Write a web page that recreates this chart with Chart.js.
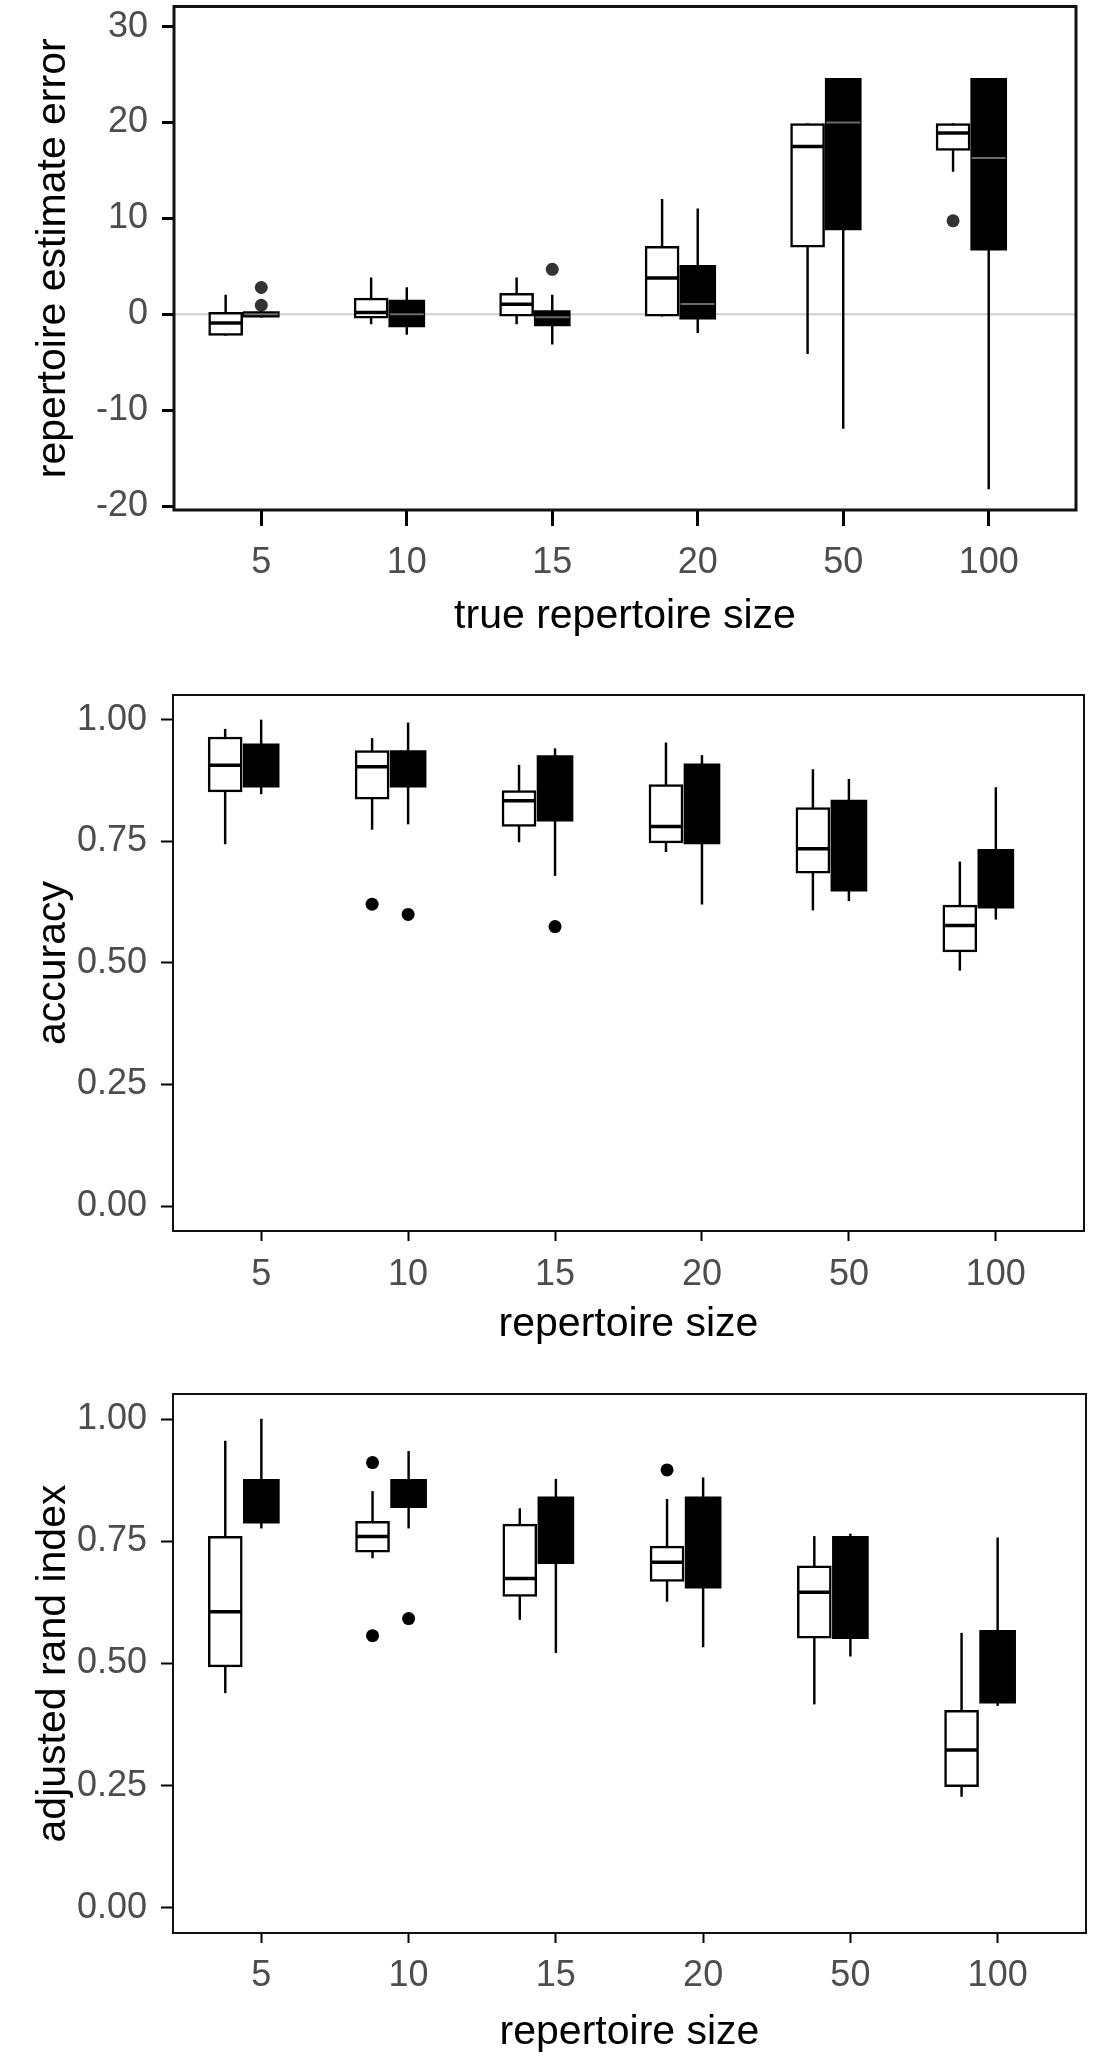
<!DOCTYPE html>
<html><head><meta charset="utf-8">
<script src="https://cdn.jsdelivr.net/npm/chart.js@4.4.1/dist/chart.umd.min.js"></script>
<style>
html,body{margin:0;padding:0;background:#fff;}
#wrap{position:relative;width:1105px;height:2067px;overflow:hidden;background:#fff;}
canvas{position:absolute;left:0;}
</style></head><body>
<div id="wrap">
<canvas id="c1" width="1105" height="650" style="top:0px"></canvas>
<canvas id="c2" width="1105" height="700" style="top:650px"></canvas>
<canvas id="c3" width="1105" height="717" style="top:1350px"></canvas>
</div>
<script>
// ---------- data ----------
const categories = ['5', '10', '15', '20', '50', '100'];
const errTicks = [-20, -10, 0, 10, 20, 30];
const propTicks = [0, 0.25, 0.5, 0.75, 1];

// each entry: [min, q1, median, q3, max]
const errWhite = [
  [-2.2, -2.2, -0.9, 0.2, 2.0],
  [-1.0, -0.4, 0.2, 1.7, 3.8],
  [-1.0, -0.2, 1.05, 2.2, 3.8],
  [-0.2, -0.2, 3.8, 7.1, 12.0],
  [-4.1, 7.0, 17.5, 19.9, 19.9],
  [14.9, 17.1, 18.9, 19.9, 19.9]
];
const errBlack = [
  [-0.3, -0.3, 0.0, 0.3, 0.3],
  [-2.1, -1.3, 0.0, 1.5, 2.8],
  [-3.1, -1.2, -0.3, 0.4, 2.0],
  [-1.9, -0.5, 1.07, 5.1, 11.0],
  [-11.9, 8.8, 20.0, 24.6, 24.6],
  [-18.2, 6.7, 16.3, 24.6, 24.6]
];
const errOutWhite = [[], [], [], [], [], [9.75]];
const errOutBlack = [[2.8, 0.95], [], [4.7], [], [], []];

const accWhite = [
  [0.745, 0.852, 0.907, 0.965, 0.981],
  [0.775, 0.837, 0.904, 0.937, 0.962],
  [0.749, 0.781, 0.834, 0.855, 0.907],
  [0.729, 0.747, 0.781, 0.867, 0.953],
  [0.609, 0.685, 0.735, 0.820, 0.898],
  [0.485, 0.523, 0.577, 0.619, 0.708]
];
const accBlack = [
  [0.848, 0.862, 0.905, 0.951, 1.000],
  [0.786, 0.862, 0.900, 0.937, 0.994],
  [0.680, 0.792, 0.860, 0.927, 0.941],
  [0.621, 0.745, 0.850, 0.910, 0.927],
  [0.628, 0.648, 0.750, 0.835, 0.878],
  [0.590, 0.613, 0.680, 0.734, 0.861]
];
const accOutWhite = [[], [0.621], [], [], [], []];
const accOutBlack = [[], [0.600], [0.575], [], [], []];

const ariWhite = [
  [0.440, 0.493, 0.606, 0.760, 0.955],
  [0.716, 0.728, 0.760, 0.791, 0.852],
  [0.590, 0.637, 0.674, 0.785, 0.817],
  [0.627, 0.668, 0.707, 0.740, 0.836],
  [0.417, 0.552, 0.646, 0.700, 0.760],
  [0.228, 0.248, 0.323, 0.404, 0.562]
];
const ariBlack = [
  [0.777, 0.787, 0.830, 0.877, 1.000],
  [0.777, 0.819, 0.850, 0.877, 0.934],
  [0.522, 0.704, 0.780, 0.841, 0.877],
  [0.534, 0.654, 0.750, 0.841, 0.880],
  [0.515, 0.551, 0.650, 0.760, 0.765],
  [0.414, 0.419, 0.500, 0.568, 0.757]
];
const ariOutWhite = [[], [0.911, 0.557], [], [0.896], [], []];
const ariOutBlack = [[], [0.592], [], [], [], []];

// ---------- drawing ----------
Chart.defaults.font.family = "'Liberation Sans', Arial, sans-serif";
const WHITE_OFF = -0.245, BLACK_OFF = 0.0;

const boxPlugin = {
  id: 'boxextras',
  beforeDatasetsDraw(chart, args, o) {
    if (!o.zeroLine) return;
    const {ctx, chartArea: a} = chart;
    const py = chart.scales.y.getPixelForValue(0);
    ctx.save();
    ctx.strokeStyle = '#cfcfcf'; ctx.lineWidth = 2;
    ctx.beginPath(); ctx.moveTo(a.left, py); ctx.lineTo(a.right, py); ctx.stroke();
    ctx.restore();
  },
  afterDatasetsDraw(chart, args, o) {
    const ctx = chart.ctx;
    o.medians.forEach(m => {
      const meta = chart.getDatasetMeta(m.ds);
      meta.data.forEach((el, i) => {
        const py = chart.scales.y.getPixelForValue(m.stats[i][2]);
        ctx.save();
        ctx.strokeStyle = m.color; ctx.lineWidth = m.width;
        ctx.beginPath();
        ctx.moveTo(el.x - el.width / 2 + 1, py); ctx.lineTo(el.x + el.width / 2 - 1, py);
        ctx.stroke(); ctx.restore();
      });
    });
  },
  afterDraw(chart, args, o) {
    const {ctx, chartArea: a} = chart;
    ctx.save();
    ctx.strokeStyle = o.frameColor; ctx.lineWidth = o.frameWidth;
    ctx.strokeRect(a.left, a.top, a.right - a.left, a.bottom - a.top);
    ctx.restore();
  }
};

function makeChart(p) {
  const boxes = (stats, off) => stats.map((s, i) => ({x: i + 1 + off, y: [s[1], s[3]]}));
  const whisk = (stats, off) => stats.map((s, i) => ({x: i + 1 + off, y: [s[0], s[4]]}));
  const outs = [];
  p.outW.forEach((arr, i) => arr.forEach(v => outs.push({x: i + 1 + WHITE_OFF, y: v})));
  p.outB.forEach((arr, i) => arr.forEach(v => outs.push({x: i + 1 + BLACK_OFF, y: v})));

  return new Chart(document.getElementById(p.id), {
    type: 'bar',
    data: {
      datasets: [
        {data: boxes(p.white, WHITE_OFF), backgroundColor: '#ffffff', borderColor: '#000000',
         borderWidth: 2.5, borderSkipped: false, grouped: false, barThickness: 34, maxBarThickness: 34},
        {data: boxes(p.black, BLACK_OFF), backgroundColor: '#000000', borderColor: '#000000',
         borderWidth: 0, borderSkipped: false, grouped: false, barThickness: 36, maxBarThickness: 36},
        {data: whisk(p.white, WHITE_OFF), backgroundColor: '#000000', borderWidth: 0,
         grouped: false, barThickness: 1.8, maxBarThickness: 1.8},
        {data: whisk(p.black, BLACK_OFF), backgroundColor: '#000000', borderWidth: 0,
         grouped: false, barThickness: 1.8, maxBarThickness: 1.8},
        {type: 'scatter', data: outs, pointRadius: 6.5, pointBackgroundColor: p.outColor,
         pointBorderWidth: 0, showLine: false}
      ]
    },
    options: {
      responsive: false, animation: false, devicePixelRatio: 1,
      layout: {padding: {left: 0, right: p.padRight, top: p.padTop, bottom: 0}},
      plugins: {
        legend: {display: false}, tooltip: {enabled: false},
        boxextras: {
          zeroLine: p.zeroLine, frameColor: '#111', frameWidth: p.frameWidth,
          medians: [{ds: 0, stats: p.white, color: '#000', width: 3.5},
                    {ds: 1, stats: p.black, color: p.blackMedColor, width: 2}]
        }
      },
      scales: {
        x: {
          type: 'linear', offset: false, min: 0.4, max: 6.6,
          afterBuildTicks: s => { s.ticks = categories.map((c, i) => ({value: i + 1})); },
          afterFit: s => { s.height = p.xHeight; s.paddingLeft = 0; s.paddingRight = 0; },
          grid: {display: true, drawOnChartArea: false, drawTicks: true, offset: false,
                 tickLength: p.xTickLen, tickWidth: p.tickWidth, tickColor: '#000'},
          border: {display: false},
          ticks: {callback: v => categories[v - 1], color: '#4d4d4d', padding: p.xTickPad,
                  font: {size: 36}, maxRotation: 0, autoSkip: false},
          title: {display: true, text: p.xTitle, color: '#000', font: {size: 41},
                  padding: {top: 0, bottom: p.xTitlePad}}
        },
        y: {
          type: 'linear', min: p.yMin, max: p.yMax, beginAtZero: false,
          afterBuildTicks: s => { s.ticks = p.yTicks.map(v => ({value: v})); },
          afterFit: s => { s.width = p.yWidth; s.paddingTop = 0; s.paddingBottom = 0; },
          grid: {display: true, drawOnChartArea: false, drawTicks: true,
                 tickLength: 12, tickWidth: p.tickWidth, tickColor: '#000'},
          border: {display: false},
          ticks: {callback: p.fmt, color: '#4d4d4d', padding: 14, font: {size: 36}},
          title: {display: true, text: p.yTitle, color: '#000', font: {size: 41},
                  padding: {top: 29, bottom: 0}}
        }
      }
    },
    plugins: [boxPlugin]
  });
}

makeChart({id: 'c1', white: errWhite, black: errBlack, outW: errOutWhite, outB: errOutBlack,
  yMin: -20.4, yMax: 32.1, yTicks: errTicks, fmt: v => String(v),
  yTitle: 'repertoire estimate error', xTitle: 'true repertoire size',
  padTop: 4, padRight: 29, yWidth: 174, xHeight: 140, xTitlePad: 9, xTickLen: 16, xTickPad: 15,
  frameWidth: 3, tickWidth: 3, zeroLine: true, blackMedColor: '#6a6a6a', outColor: '#333'});

makeChart({id: 'c2', white: accWhite, black: accBlack, outW: accOutWhite, outB: accOutBlack,
  yMin: -0.0514, yMax: 1.0514, yTicks: propTicks, fmt: v => v.toFixed(2),
  yTitle: 'accuracy', xTitle: 'repertoire size',
  padTop: 45, padRight: 21, yWidth: 173, xHeight: 119, xTitlePad: 1, xTickLen: 10, xTickPad: 12,
  frameWidth: 2, tickWidth: 2, zeroLine: false, blackMedColor: '#000', outColor: '#000'});

makeChart({id: 'c3', white: ariWhite, black: ariBlack, outW: ariOutWhite, outB: ariOutBlack,
  yMin: -0.0514, yMax: 1.0514, yTicks: propTicks, fmt: v => v.toFixed(2),
  yTitle: 'adjusted rand index', xTitle: 'repertoire size',
  padTop: 44, padRight: 19, yWidth: 173, xHeight: 134, xTitlePad: 10, xTickLen: 10, xTickPad: 11,
  frameWidth: 2, tickWidth: 2, zeroLine: false, blackMedColor: '#000', outColor: '#000'});
</script>
</body></html>
